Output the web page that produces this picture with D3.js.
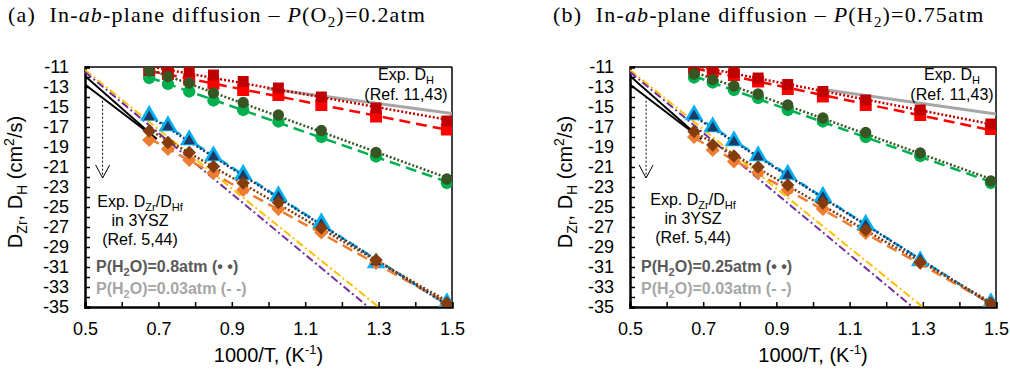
<!DOCTYPE html>
<html>
<head>
<meta charset="utf-8">
<script src="https://cdn.jsdelivr.net/npm/d3@7"></script>
<style>
  body { margin: 0; background: #fff; }
  svg { display: block; }
  text { font-family: "Liberation Sans", Arial, sans-serif; }
</style>
</head>
<body>
<div id="chart"></div>
<script>
// 1000/T positions of the measured temperatures (1473 K ... 673 K)
var invT = [0.675, 0.726, 0.784, 0.85, 0.931, 1.027, 1.144, 1.293, 1.486];

// panel (a) : P(O2)=0.2atm, "hi" = P(H2O)=0.8atm, "lo" = P(H2O)=0.03atm
var sqHiA = [-11.35, -11.5, -11.45, -11.8, -12.45, -13.1, -14.0, -15.1, -16.4];
var sqLoA = [-11.4, -11.7, -12.25, -12.65, -13.3, -13.8, -14.8, -15.95, -17.25];
var ciHiA = [-11.4, -11.95, -12.6, -13.6, -14.55, -15.8, -17.35, -19.55, -22.2];
var ciLoA = [-12.1, -12.7, -13.45, -14.35, -15.3, -16.45, -18.0, -19.95, -22.6];
var trHiA = [-16.0, -17.0, -18.4, -20.0, -21.9, -24.0, -26.75, -30.5, -34.65];
var trLoA = [-15.85, -16.9, -18.3, -19.9, -21.75, -23.9, -26.6, -30.6, -34.6];
var diHiA = [-17.4, -18.55, -19.55, -20.95, -22.6, -24.55, -27.1, -30.3, -34.6];
var diLoA = [-18.3, -19.2, -20.3, -21.6, -23.3, -25.2, -27.55, -30.6, -34.75];

// panel (b) : P(H2)=0.75atm, "hi" = P(H2O)=0.25atm, "lo" = P(H2O)=0.03atm
var sqHiB = [-11.0, -11.15, -11.55, -12.1, -12.75, -13.45, -14.3, -15.3, -16.7];
var sqLoB = [-11.15, -11.4, -11.8, -12.45, -13.2, -13.95, -14.8, -15.8, -17.2];
var ciHiB = [-11.7, -12.25, -12.9, -13.7, -14.8, -16.1, -17.55, -19.6, -22.4];
var ciLoB = [-12.05, -12.55, -13.3, -14.1, -15.3, -16.45, -18.0, -19.9, -22.6];
var trHiB = [-15.9, -17.1, -18.5, -20.0, -21.85, -24.05, -26.85, -30.3, -34.65];
var trLoB = [-15.8, -17.0, -18.4, -19.9, -21.75, -23.95, -26.75, -30.4, -34.6];
var diHiB = [-17.45, -18.8, -19.9, -21.0, -22.8, -24.6, -27.3, -30.55, -34.6];
var diLoB = [-18.0, -19.3, -20.45, -21.55, -23.3, -25.2, -27.6, -30.6, -34.8];

// reference lines [x, log D]
var expH_A = [[0.995, -13.15], [1.5, -15.65]];
var expH_B = [[1.019, -13.2], [1.5, -15.7]];
var yszZr = [[0.5, -11.9], [0.695, -18.2]];
var yszHf = [[0.5, -12.75], [0.695, -18.2]];
var yszYellow = [[0.5, -11.3], [1.3, -35]];
var yszPurple = [[0.5, -11.5], [1.272, -35]];
var arrowA = [[0.548, -13.97], [0.548, -22.1]];
var arrowB = [[0.544, -13.97], [0.544, -22.1]];

var xTicks = d3.range(5, 16).map(function (d) { return d / 10; });
var yTicks = d3.range(-35, -10);

var width = 1010, height = 373;
var top0 = 67, bottom0 = 307;

var svg = d3.select('#chart').append('svg')
        .attr('width', width)
        .attr('height', height);
svg.append('rect').attr('width', width).attr('height', height).style('fill', '#fff');

var panels = [
    {id: 'a', x0: 85, x1: 452, gas: 'O', gasVal: ')=0.2atm', titleX: 8,
        sqHi: sqHiA, sqLo: sqLoA, ciHi: ciHiA, ciLo: ciLoA, trHi: trHiA, trLo: trLoA, diHi: diHiA, diLo: diLoA,
        expH: expH_A, arrow: arrowA, hiLabel: '0.8atm', yszX: 140, yszY: 207, pX: 96, expHX: 406, ylabX: 22},
    {id: 'b', x0: 630, x1: 996, gas: 'H', gasVal: ')=0.75atm', titleX: 553,
        sqHi: sqHiB, sqLo: sqLoB, ciHi: ciHiB, ciLo: ciLoB, trHi: trHiB, trLo: trLoB, diHi: diHiB, diLo: diLoB,
        expH: expH_B, arrow: arrowB, hiLabel: '0.25atm', yszX: 693, yszY: 205, pX: 641, expHX: 952, ylabX: 572}
];

var defs = svg.append('defs');

panels.forEach(drawPanel);

function fitLine(xs, ys) {
    var n = xs.length;
    var mx = d3.mean(xs), my = d3.mean(ys);
    var sxy = 0, sxx = 0;
    for (var i = 0; i < n; i++) {
        sxy += (xs[i] - mx) * (ys[i] - my);
        sxx += (xs[i] - mx) * (xs[i] - mx);
    }
    var b = sxy / sxx, a = my - b * mx;
    var lo = d3.min(xs), hi = d3.max(xs);
    return [[lo, a + b * lo], [hi, a + b * hi]];
}

function drawPanel(p) {
    var x = d3.scaleLinear().domain([0.5, 1.5]).range([p.x0, p.x1]);
    var y = d3.scaleLinear().domain([-35, -11]).range([bottom0, top0]);
    var line = d3.line().x(function (d) { return x(d[0]); }).y(function (d) { return y(d[1]); });

    defs.append('clipPath').attr('id', 'clip-' + p.id)
            .append('rect')
            .attr('x', p.x0).attr('y', top0)
            .attr('width', p.x1 - p.x0).attr('height', bottom0 - top0);

    // title
    var t = svg.append('text')
            .attr('x', p.titleX).attr('y', 22)
            .style('font-family', '"Liberation Serif", "Times New Roman", serif')
            .style('font-size', '22px').style('letter-spacing', '1.2px').attr('fill', '#000');
    t.append('tspan').text('(' + p.id + ')\u00a0 In-');
    t.append('tspan').style('font-style', 'italic').text('ab');
    t.append('tspan').text('-plane diffusion \u2013 ');
    t.append('tspan').style('font-style', 'italic').text('P');
    t.append('tspan').text('(' + p.gas);
    t.append('tspan').attr('dy', 5).style('font-size', '15px').text('2');
    t.append('tspan').attr('dy', -5).text(p.gasVal);

    // frame
    var g = svg.append('g');
    g.append('line').attr('x1', p.x0).attr('x2', p.x1).attr('y1', top0).attr('y2', top0)
            .attr('stroke', '#000').attr('stroke-width', 1.5);
    g.append('line').attr('x1', p.x1).attr('x2', p.x1).attr('y1', top0).attr('y2', bottom0)
            .attr('stroke', '#000').attr('stroke-width', 1.5);

    // axes
    var xAxis = d3.axisBottom(x).tickValues(xTicks).tickSize(-5).tickPadding(15)
            .tickFormat(function (d) { return Math.round(d * 10) % 2 === 1 ? d3.format('.1f')(d) : ''; });
    var gx = svg.append('g').attr('transform', 'translate(0,' + bottom0 + ')').call(xAxis);
    gx.select('.domain').attr('stroke-width', 2.5);
    gx.selectAll('.tick line').attr('stroke-width', 1.5);
    gx.selectAll('text').style('font-size', '18px').style('font-family', '"Liberation Sans", Arial, sans-serif').attr('fill', '#000');

    var yAxis = d3.axisLeft(y).tickValues(yTicks).tickSize(-5).tickPadding(16)
            .tickFormat(function (d) { return Math.abs(d) % 2 === 1 ? String(d) : ''; });
    var gy = svg.append('g').attr('transform', 'translate(' + p.x0 + ',0)').call(yAxis);
    gy.select('.domain').attr('stroke-width', 2.5);
    gy.selectAll('.tick line').attr('stroke-width', 1.5);
    gy.selectAll('text').style('font-size', '18px').style('font-family', '"Liberation Sans", Arial, sans-serif').attr('fill', '#000');

    // axis titles
    var xt = svg.append('text').attr('x', (p.x0 + p.x1) / 2).attr('y', 362)
            .attr('text-anchor', 'middle').style('font-size', '20px');
    xt.append('tspan').text('1000/T, (K');
    xt.append('tspan').attr('dy', -8).style('font-size', '13px').text('-1');
    xt.append('tspan').attr('dy', 8).text(')');

    var yt = svg.append('text')
            .attr('transform', 'translate(' + p.ylabX + ',' + ((top0 + bottom0) / 2 - 5) + ')rotate(-90)')
            .attr('text-anchor', 'middle').style('font-size', '20px');
    yt.append('tspan').text('D');
    yt.append('tspan').attr('dy', 5).style('font-size', '14px').text('Zr');
    yt.append('tspan').attr('dy', -5).text(', D');
    yt.append('tspan').attr('dy', 5).style('font-size', '14px').text('H');
    yt.append('tspan').attr('dy', -5).text(' (cm');
    yt.append('tspan').attr('dy', -8).style('font-size', '14px').text('2');
    yt.append('tspan').attr('dy', 8).text('/s)');

    var plot = svg.append('g').attr('clip-path', 'url(#clip-' + p.id + ')');

    // experimental references
    plot.append('path').attr('d', line(p.expH)).attr('fill', 'none')
            .attr('stroke', '#a6a6a6').attr('stroke-width', 3);
    plot.append('path').attr('d', line(yszZr)).attr('fill', 'none')
            .attr('stroke', '#000').attr('stroke-width', 2);
    plot.append('path').attr('d', line(yszHf)).attr('fill', 'none')
            .attr('stroke', '#000').attr('stroke-width', 2);
    plot.append('path').attr('d', line(yszYellow)).attr('fill', 'none')
            .attr('stroke', '#ffc000').attr('stroke-width', 2).attr('stroke-dasharray', '8,3,2,3');
    plot.append('path').attr('d', line(yszPurple)).attr('fill', 'none')
            .attr('stroke', '#7030a0').attr('stroke-width', 2).attr('stroke-dasharray', '8,3,2,3');

    // downward arrow
    var ax = x(p.arrow[0][0]), ay0 = y(p.arrow[0][1]), ay1 = y(p.arrow[1][1]);
    plot.append('line').attr('x1', ax).attr('x2', ax).attr('y1', ay0).attr('y2', ay1)
            .attr('stroke', '#000').attr('stroke-width', 1).attr('stroke-dasharray', '2,2');
    plot.append('path').attr('d', 'M' + (ax - 7) + ',' + (ay1 - 13) + 'L' + ax + ',' + ay1 + 'L' + (ax + 7) + ',' + (ay1 - 13))
            .attr('fill', 'none').attr('stroke', '#000').attr('stroke-width', 1);

    // series: low P(H2O) long dash, high P(H2O) dotted
    var series = [
        {v: p.sqLo, c: '#ff0000', sym: d3.symbolSquare, size: 144, rot: 0, dash: '11,6'},
        {v: p.ciLo, c: '#00b050', sym: d3.symbolCircle, size: 120, rot: 0, dash: '11,6'},
        {v: p.trLo, c: '#00b0f0', sym: d3.symbolTriangle, size: 150, rot: 0, dash: '9,5'},
        {v: p.diLo, c: '#ed7d31', sym: d3.symbolSquare, size: 100, rot: 45, dash: '11,6'},
        {v: p.sqHi, c: '#c00000', sym: d3.symbolSquare, size: 120, rot: 0, dash: '2,2'},
        {v: p.ciHi, c: '#375623', sym: d3.symbolCircle, size: 100, rot: 0, dash: '2,2'},
        {v: p.trHi, c: '#203864', sym: d3.symbolTriangle, size: 55, rot: 0, dash: '2,2'},
        {v: p.diHi, c: '#843c0c', sym: d3.symbolSquare, size: 90, rot: 45, dash: '2,2'}
    ];

    series.forEach(function (s) {
        plot.append('path').attr('d', line(fitLine(invT, s.v))).attr('fill', 'none')
                .attr('stroke', s.c).attr('stroke-width', 2.5).attr('stroke-dasharray', s.dash);
    });
    series.forEach(function (s) {
        var pts = s.v.map(function (d, i) { return [invT[i], d]; });
        plot.append('g').selectAll('path').data(pts).enter().append('path')
                .attr('d', d3.symbol().type(s.sym).size(s.size))
                .attr('transform', function (d) { return 'translate(' + x(d[0]) + ',' + y(d[1]) + ')rotate(' + s.rot + ')'; })
                .attr('fill', s.c);
    });

    // annotations
    var e1 = svg.append('text').attr('x', p.yszX).attr('y', p.yszY).attr('text-anchor', 'middle').style('font-size', '16px');
    e1.append('tspan').text('Exp. D');
    e1.append('tspan').attr('dy', 4).style('font-size', '11px').text('Zr');
    e1.append('tspan').attr('dy', -4).text('/D');
    e1.append('tspan').attr('dy', 4).style('font-size', '11px').text('Hf');
    svg.append('text').attr('x', p.yszX).attr('y', p.yszY + 19).attr('text-anchor', 'middle').style('font-size', '16px').text('in 3YSZ');
    svg.append('text').attr('x', p.yszX).attr('y', p.yszY + 38).attr('text-anchor', 'middle').style('font-size', '16px').text('(Ref. 5,44)');

    var h1 = svg.append('text').attr('x', p.pX).attr('y', 272).style('font-size', '16px').style('font-weight', 'bold').attr('fill', '#595959');
    h1.append('tspan').text('P(H');
    h1.append('tspan').attr('dy', 4).style('font-size', '11px').text('2');
    h1.append('tspan').attr('dy', -4).text('O)=' + p.hiLabel + ' (\u2022 \u2022)');
    var h2 = svg.append('text').attr('x', p.pX).attr('y', 294).style('font-size', '16px').style('font-weight', 'bold').attr('fill', '#a6a6a6');
    h2.append('tspan').text('P(H');
    h2.append('tspan').attr('dy', 4).style('font-size', '11px').text('2');
    h2.append('tspan').attr('dy', -4).text('O)=0.03atm (- -)');

    var d1 = svg.append('text').attr('x', p.expHX).attr('y', 80).attr('text-anchor', 'middle').style('font-size', '16px');
    d1.append('tspan').text('Exp. D');
    d1.append('tspan').attr('dy', 4).style('font-size', '11px').text('H');
    svg.append('text').attr('x', p.expHX).attr('y', 100).attr('text-anchor', 'middle').style('font-size', '16px').text('(Ref. 11,43)');
}
</script>
</body>
</html>
